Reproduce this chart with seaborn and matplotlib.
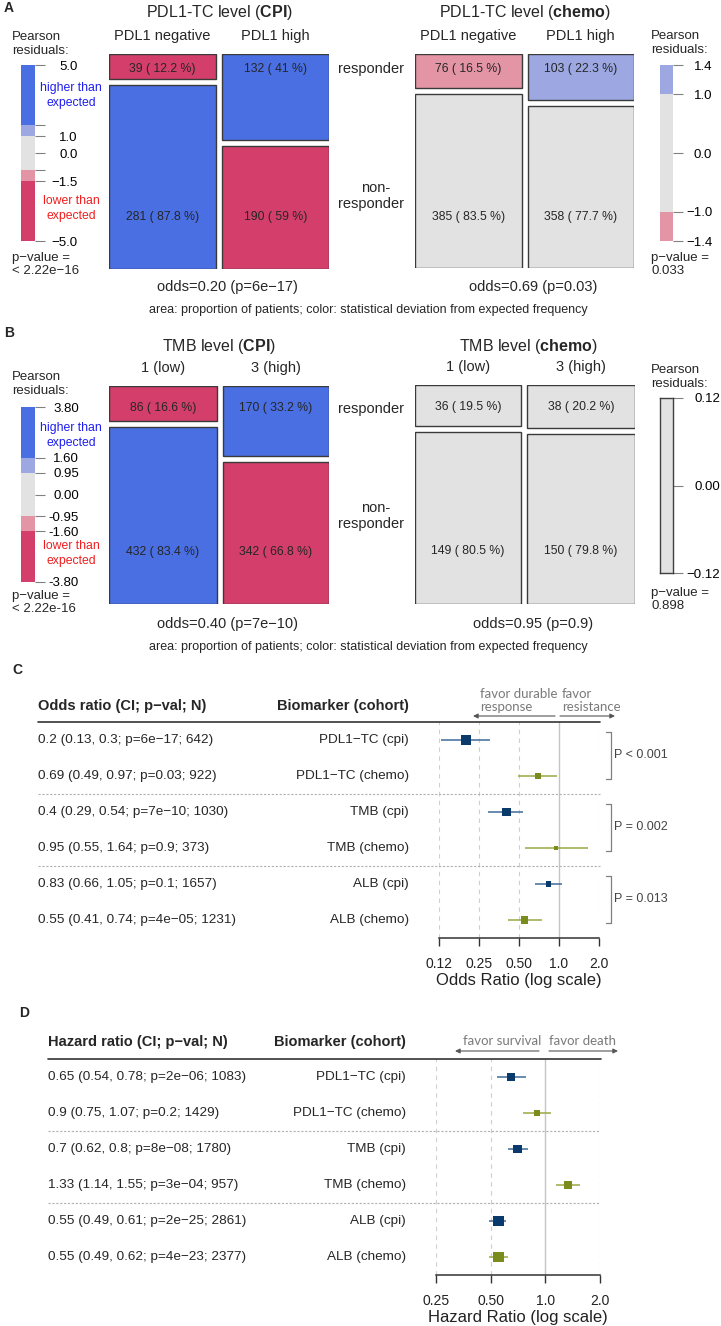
import numpy as np
import pandas as pd
import matplotlib.pyplot as plt
import seaborn as sns
from matplotlib.lines import Line2D
from matplotlib.patches import FancyArrowPatch
from matplotlib.ticker import NullLocator
from matplotlib.transforms import blended_transform_factory

# estilo
sns.set_theme(style="white")
plt.rcParams['font.family'] = ['Liberation Sans', 'DejaVu Sans']
plt.rcParams['mathtext.fontset'] = 'custom'
plt.rcParams['mathtext.rm'] = 'Liberation Sans'
plt.rcParams['mathtext.bf'] = 'Liberation Sans:bold'

# ---------------- datos ----------------
# A/B: tablas de contingencia (columnas = nivel bajo / alto)
pdl1_levels = ['PDL1 negative', 'PDL1 high']
tmb_levels = ['1 (low)', '3 (high)']
pdl1_cpi_resp = [39, 132]
pdl1_cpi_nonresp = [281, 190]
pdl1_chemo_resp = [76, 103]
pdl1_chemo_nonresp = [385, 358]
tmb_cpi_resp = [86, 170]
tmb_cpi_nonresp = [432, 342]
tmb_chemo_resp = [36, 38]
tmb_chemo_nonresp = [149, 150]
odds_pvals = ['6e−17', '0.03', '7e−10', '0.9']
chisq_pvals = ['< 2.22e−16', '0.033', '< 2.22e-16', '0.898']

# etiquetas de las leyendas de residuos
leg_a_cpi_labels = ['5.0', '', '1.0', '0.0', '', '−1.5', '−5.0']
leg_a_chemo_labels = ['1.4', '1.0', '0.0', '−1.0', '−1.4']
leg_b_cpi_labels = ['3.80', '1.60', '0.95', '0.00', '-0.95', '-1.60', '-3.80']
leg_b_chemo_labels = ['0.12', '0.00', '−0.12']

# C: odds ratios
biomarkers = ['PDL1−TC (cpi)', 'PDL1−TC (chemo)', 'TMB (cpi)', 'TMB (chemo)', 'ALB (cpi)', 'ALB (chemo)']
cohorts = ['cpi', 'chemo', 'cpi', 'chemo', 'cpi', 'chemo']
or_est = [0.2, 0.69, 0.4, 0.95, 0.83, 0.55]
or_lo = [0.13, 0.49, 0.29, 0.55, 0.66, 0.41]
or_hi = [0.3, 0.97, 0.54, 1.64, 1.05, 0.74]
or_p = [6e-17, 0.03, 7e-10, 0.9, 0.1, 4e-05]
or_n = [642, 922, 1030, 373, 1657, 1231]
or_interaction = ['P < 0.001', 'P = 0.002', 'P = 0.013']

# D: hazard ratios
hr_est = [0.65, 0.9, 0.7, 1.33, 0.55, 0.55]
hr_lo = [0.54, 0.75, 0.62, 1.14, 0.49, 0.49]
hr_hi = [0.78, 1.07, 0.8, 1.55, 0.61, 0.62]
hr_p = [2e-06, 0.2, 8e-08, 3e-04, 2e-25, 4e-23]
hr_n = [1083, 1429, 1780, 957, 2861, 2377]

or_ticks = [0.125, 0.25, 0.5, 1.0, 2.0]
or_ticklabels = ['0.12', '0.25', '0.50', '1.0', '2.0']
hr_ticks = [0.25, 0.5, 1.0, 2.0]
hr_ticklabels = ['0.25', '0.50', '1.0', '2.0']

# ---------------- colores ----------------
BLUE, LBLUE, GRAY, LRED, RED = '#4A6FE3', '#9DA8E2', '#E2E2E2', '#E495A5', '#D33F6A'
EDGE = '#3A3A3A'
MARK = {'cpi': '#0A3A6B', 'chemo': '#7B8B1E'}
CILINE = {'cpi': '#3F6B97', 'chemo': '#9AA843'}
BREAKS = (0.95, 1.6)

W, H = 721, 1326
fig = plt.figure(figsize=(W / 100, H / 100), dpi=100)


def px_axes(x0, y0, x1, y1):
    return fig.add_axes([x0 / W, 1 - y1 / H, (x1 - x0) / W, (y1 - y0) / H])


def ftext(x, y, s, **kw):
    kw.setdefault('va', 'center')
    fig.text(x / W, 1 - y / H, s, **kw)


def fline(x0, x1, y, **kw):
    fig.add_artist(Line2D([x0 / W, x1 / W], [1 - y / H] * 2, transform=fig.transFigure, **kw))


def farrow(x0, x1, y):
    fig.add_artist(FancyArrowPatch((x0 / W, 1 - y / H), (x1 / W, 1 - y / H), transform=fig.transFigure,
                                   arrowstyle='-|>', mutation_scale=7, color='#555555', lw=0.8,
                                   shrinkA=0, shrinkB=0))


def res_color(r):
    a = abs(r)
    if a < BREAKS[0]:
        return GRAY
    if a < BREAKS[1]:
        return LBLUE if r > 0 else LRED
    return BLUE if r > 0 else RED


def pct(v):
    return f"{round(100 * v, 1):g}"


def mosaic(box, resp, nonresp, levels, lab_off):
    ax = px_axes(*box)
    obs = np.array([resp, nonresp], dtype=float)
    col_tot = obs.sum(axis=0)
    n = obs.sum()
    exp = np.outer(obs.sum(axis=1), col_tot) / n
    res = (obs - exp) / np.sqrt(exp)
    hpx = box[3] - box[1]
    gx, gy = 6 / (box[2] - box[0]), 6 / hpx
    widths = (1 - gx) * col_tot / n
    lefts = [0, widths[0] + gx]
    y_resp = 1 - lab_off[0] / hpx
    y_non = 1 - lab_off[1] / hpx
    for j in range(2):
        p = obs[0, j] / col_tot[j]
        h_r = (1 - gy) * p
        h_n = (1 - gy) * (1 - p)
        ax.bar(lefts[j], h_r, width=widths[j], bottom=1 - h_r, align='edge',
               color=res_color(res[0, j]), edgecolor=EDGE, linewidth=1)
        ax.bar(lefts[j], h_n, width=widths[j], bottom=0, align='edge',
               color=res_color(res[1, j]), edgecolor=EDGE, linewidth=1)
        cx = lefts[j] + widths[j] / 2
        ax.text(cx, y_resp, f"{int(obs[0, j])} ( {pct(p)} %)", ha='center', va='center', fontsize=8.8)
        ax.text(cx, y_non, f"{int(obs[1, j])} ( {pct(1 - p)} %)", ha='center', va='center', fontsize=8.8)
        ax.text(cx, 1 + 18 / hpx, levels[j], ha='center', va='center', fontsize=10.5)
    ax.set_xlim(0, 1)
    ax.set_ylim(0, 1)
    ax.axis('off')
    odds = (obs[0, 0] * obs[1, 1]) / (obs[1, 0] * obs[0, 1])
    return np.abs(res).max(), odds


def res_legend(box, R, labels, pad, outline=False):
    ax = px_axes(*box)
    spans = [(BREAKS[1], np.inf, BLUE), (BREAKS[0], BREAKS[1], LBLUE), (-BREAKS[0], BREAKS[0], GRAY),
             (-BREAKS[1], -BREAKS[0], LRED), (-np.inf, -BREAKS[1], RED)]
    for lo, hi, c in spans:
        lo, hi = max(lo, -R), min(hi, R)
        if hi > lo:
            ax.axhspan(lo, hi, color=c, lw=0)
    ax.set_ylim(-R, R)
    ax.set_xlim(0, 1)
    ax.set_xticks([])
    if len(labels) == 7:
        ticks = [R, BREAKS[1], BREAKS[0], 0, -BREAKS[0], -BREAKS[1], -R]
    elif len(labels) == 5:
        ticks = [R, BREAKS[0], 0, -BREAKS[0], -R]
    else:
        ticks = [R, 0, -R]
    ax.set_yticks(ticks)
    ax.set_yticklabels(labels, ha='right')
    ax.tick_params(axis='y', left=False, right=True, labelleft=False, labelright=True,
                   length=7.2, width=0.8, color='#808080', pad=pad, labelsize=9.5, labelcolor='black')
    for s in ax.spines.values():
        s.set_visible(outline)
        s.set_color('#404040')
        s.set_linewidth(1)


def fmt_p(p):
    if p < 0.001:
        return f"{p:.0e}".replace('-', '−')
    return f"{p:g}"


def forest(box, est, lo, hi, ticks, ticklabels, xlabel, sizes):
    ax = px_axes(*box)
    df = pd.DataFrame(dict(est=est, lo=lo, hi=hi, cohort=cohorts, row=np.arange(len(est))))
    df['z'] = np.abs(np.log(df['est'])) / ((np.log(df['hi']) - np.log(df['lo'])) / 3.92)
    ax.set_xscale('log')
    for t in ticks:
        if t == 1.0:
            ax.axvline(t, color='#C4C4C4', lw=1.0, zorder=0)
        else:
            ax.axvline(t, color='#CFCFCF', lw=0.8, ls=(0, (4, 4)), zorder=0)
    ax.hlines(df['row'], df['lo'], df['hi'], colors=[CILINE[c] for c in df['cohort']], lw=1.1, zorder=2)
    sns.scatterplot(data=df, x='est', y='row', hue='cohort', palette=MARK, size='z', sizes=sizes,
                    marker='s', linewidth=0, legend=False, ax=ax, zorder=3)
    ax.set_xlim(ticks[0], ticks[-1])
    ax.set_ylim(len(est) - 0.5, -0.5)
    ax.set_yticks([])
    ax.set_ylabel('')
    ax.xaxis.set_minor_locator(NullLocator())
    ax.set_xticks(ticks)
    ax.set_xticklabels(ticklabels)
    ax.tick_params(axis='x', bottom=True, length=6, width=1, color='#333333', pad=8, labelsize=10,
                   labelcolor='#222222')
    ax.set_xlabel(xlabel, fontsize=12, labelpad=1, color='#222222')
    for k, s in ax.spines.items():
        s.set_visible(k == 'bottom')
    ax.spines['bottom'].set_color('#333333')
    ax.spines['bottom'].set_linewidth(1.1)
    ax.set_facecolor('none')
    return ax


# ---------------- panel A ----------------
ftext(4, 8, 'A', fontsize=10, fontweight='bold')
ftext(219, 12, r'PDL1-TC level ($\mathbf{CPI}$)', ha='center', fontsize=11.5)
ftext(525, 12, r'PDL1-TC level ($\mathbf{chemo}$)', ha='center', fontsize=11.5)
Ra1, odds_a1 = mosaic((109, 54, 329, 269), pdl1_cpi_resp, pdl1_cpi_nonresp, pdl1_levels, (15, 163))
Ra2, odds_a2 = mosaic((415, 54, 634, 268), pdl1_chemo_resp, pdl1_chemo_nonresp, pdl1_levels, (15, 163))
res_legend((21, 65, 35, 241), Ra1, leg_a_cpi_labels, 23.4)
res_legend((660, 65, 673, 241), Ra2, leg_a_chemo_labels, 21)

# ---------------- panel B ----------------
ftext(4, 333, 'B', fontsize=10, fontweight='bold')
ftext(219, 347, r'TMB level ($\mathbf{CPI}$)', ha='center', fontsize=11.5)
ftext(528, 347, r'TMB level ($\mathbf{chemo}$)', ha='center', fontsize=11.5)
Rb1, odds_b1 = mosaic((109, 386, 329, 604), tmb_cpi_resp, tmb_cpi_nonresp, tmb_levels, (22, 166))
Rb2, odds_b2 = mosaic((415, 385, 635, 604), tmb_chemo_resp, tmb_chemo_nonresp, tmb_levels, (22, 166))
res_legend((21, 407, 35, 582), Rb1, leg_b_cpi_labels, 24.5)
res_legend((660, 398, 673, 573), Rb2, leg_b_chemo_labels, 26.6, outline=True)

for y0, odds_pair, pv_pair in [(0, (odds_a1, odds_a2), odds_pvals[:2]),
                               (337, (odds_b1, odds_b2), odds_pvals[2:])]:
    ftext(371, 69 + y0 * 1.01, 'responder', ha='center', fontsize=10.5)
    ftext(376, 188 + y0 * 0.95, 'non-', ha='center', fontsize=10.5)
    ftext(371, 204 + y0 * 0.95, 'responder', ha='center', fontsize=10.5)
    ftext(227, 287 + y0, f"odds={odds_pair[0]:.2f} (p={pv_pair[0]})", ha='center', fontsize=10.5)
    ftext(533, 287 + y0, f"odds={odds_pair[1]:.2f} (p={pv_pair[1]})", ha='center', fontsize=10.5)
    ftext(368, 310 + y0, 'area: proportion of patients; color: statistical deviation from expected frequency',
          ha='center', fontsize=9)

# textos de leyenda
for x, y in [(12, 37), (651, 36), (12, 377), (651, 370)]:
    ftext(x, y, 'Pearson', fontsize=9.5)
    ftext(x, y + 14, 'residuals:', fontsize=9.5)
for (x, y), pv in zip([(12, 258), (651, 258), (12, 596), (651, 593)], chisq_pvals):
    ftext(x, y, 'p−value =', fontsize=9.5)
    ftext(x, y + 13, pv, fontsize=9.5)
for yh, yl in [(88, 201), (428, 546)]:
    ftext(71, yh, 'higher than', ha='center', fontsize=8.8, color='#1E1EF0')
    ftext(71, yh + 15, 'expected', ha='center', fontsize=8.8, color='#1E1EF0')
    ftext(71, yl, 'lower than', ha='center', fontsize=8.8, color='#F01E1E')
    ftext(71, yl + 15, 'expected', ha='center', fontsize=8.8, color='#F01E1E')

# ---------------- panel C ----------------
ftext(12, 670, 'C', fontsize=10, fontweight='bold')
ftext(38, 706, 'Odds ratio (CI; p−val; N)', fontsize=10.5, fontweight='bold')
ftext(409, 706, 'Biomarker (cohort)', ha='right', fontsize=10.5, fontweight='bold')
fline(38, 600, 722, color='#333333', lw=1.2)
for i in range(len(or_est)):
    y = 740 + 36 * i
    ftext(38, y, f"{or_est[i]:g} ({or_lo[i]:g}, {or_hi[i]:g}; p={fmt_p(or_p[i])}; {or_n[i]})", fontsize=9.7)
    ftext(409, y, biomarkers[i], ha='right', fontsize=9.7)
for y in [794, 866]:
    fline(38, 600, y, color='#B0B0B0', lw=0.8, ls=(0, (2, 1.5)))
axc = forest((439, 722, 599, 938), or_est, or_lo, or_hi, or_ticks, or_ticklabels,
             'Odds Ratio (log scale)', (6.3, 52))
tr = blended_transform_factory(axc.transAxes, axc.transData)
for k, lab in enumerate(or_interaction):
    top, bot = 2 * k - 0.22, 2 * k + 1 + 0.08
    axc.plot([1.044, 1.075, 1.075, 1.044], [top, top, bot, bot], transform=tr, clip_on=False,
             color='#808080', lw=0.9)
    axc.text(1.094, (top + bot) / 2, lab, transform=tr, va='center', ha='left', fontsize=9, color='#444444')
ftext(480, 694, 'favor durable', fontsize=9.5, color='#7A7A7A', family=['Lato', 'DejaVu Sans'])
ftext(480, 707, 'response', fontsize=9.5, color='#7A7A7A', family=['Lato', 'DejaVu Sans'])
ftext(562, 694, 'favor', fontsize=9.5, color='#7A7A7A', family=['Lato', 'DejaVu Sans'])
ftext(562, 707, 'resistance', fontsize=9.5, color='#7A7A7A', family=['Lato', 'DejaVu Sans'])
farrow(555, 473, 716)
farrow(560, 615, 716)

# ---------------- panel D ----------------
ftext(19, 1013, 'D', fontsize=10, fontweight='bold')
ftext(48, 1042, 'Hazard ratio (CI; p−val; N)', fontsize=10.5, fontweight='bold')
ftext(406, 1042, 'Biomarker (cohort)', ha='right', fontsize=10.5, fontweight='bold')
fline(48, 601, 1059, color='#333333', lw=1.2)
for i in range(len(hr_est)):
    y = 1077 + 36 * i
    ftext(48, y, f"{hr_est[i]:g} ({hr_lo[i]:g}, {hr_hi[i]:g}; p={fmt_p(hr_p[i])}; {hr_n[i]})", fontsize=9.7)
    ftext(406, y, biomarkers[i], ha='right', fontsize=9.7)
for y in [1131, 1203]:
    fline(48, 600, y, color='#B0B0B0', lw=0.8, ls=(0, (2, 1.5)))
forest((436, 1059, 600, 1275), hr_est, hr_lo, hr_hi, hr_ticks, hr_ticklabels,
       'Hazard Ratio (log scale)', (18.7, 62.7))
ftext(463, 1041, 'favor survival', fontsize=9.5, color='#7A7A7A', family=['Lato', 'DejaVu Sans'])
ftext(549, 1041, 'favor death', fontsize=9.5, color='#7A7A7A', family=['Lato', 'DejaVu Sans'])
farrow(539, 455, 1051)
farrow(549, 618, 1051)

fig.savefig('out.png', dpi=100)
